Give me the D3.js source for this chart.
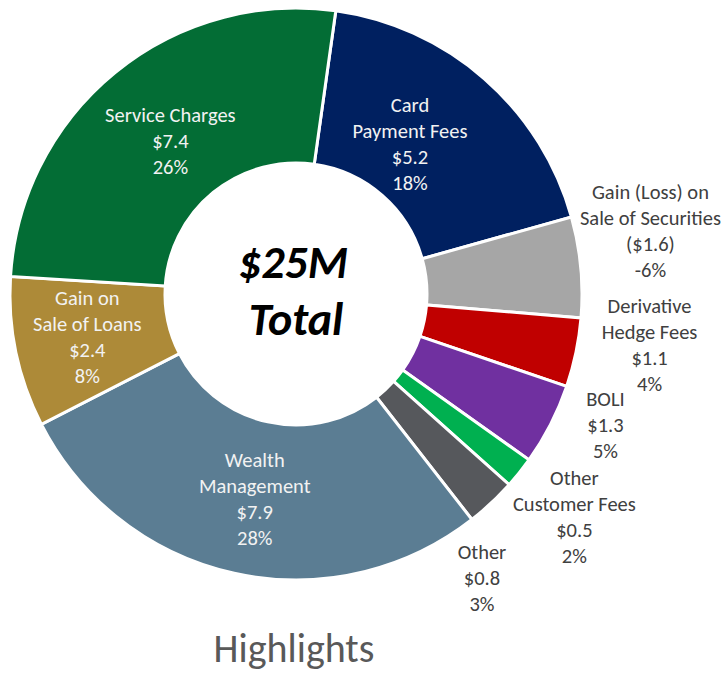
<!DOCTYPE html>
<html>
<head>
<meta charset="utf-8">
<script src="https://cdn.jsdelivr.net/npm/d3@7"></script>
<style>
  html, body { margin: 0; padding: 0; background: #ffffff; }
  svg { display: block; }
</style>
</head>
<body>
<svg id="chart" width="725" height="673"></svg>
<script>
// ---------------- data ----------------
const categories = [
  "Card Payment Fees",
  "Gain (Loss) on Sale of Securities",
  "Derivative Hedge Fees",
  "BOLI",
  "Other Customer Fees",
  "Other",
  "Wealth Management",
  "Gain on Sale of Loans",
  "Service Charges"
];
const values = [5.2, -1.6, 1.1, 1.3, 0.5, 0.8, 7.9, 2.4, 7.4];          // $M
const percents = [18, -6, 4, 5, 2, 3, 28, 8, 26];                       // % of total
const labelLines = [
  ["Card", "Payment Fees"],
  ["Gain (Loss) on", "Sale of Securities"],
  ["Derivative", "Hedge Fees"],
  ["BOLI"],
  ["Other", "Customer Fees"],
  ["Other"],
  ["Wealth", "Management"],
  ["Gain on", "Sale of Loans"],
  ["Service Charges"]
];
const centerLines = ["$25M", "Total"];
const titleText = "Highlights";

// ---------------- styling / layout ----------------
const colors = ["#002060", "#A6A6A6", "#C00000", "#7030A0", "#00B050",
                "#56585C", "#5B7D93", "#AD8A38", "#036D35"];
const insideLabel = [true, false, false, false, false, false, true, true, true];
const labelNudge = {
  "Card Payment Fees": [-21, 4],
  "Service Charges": [4, 6],
  "Gain on Sale of Loans": [-8, 1],
  "Wealth Management": [3, 5],
  "Gain (Loss) on Sale of Securities": [6, -30],
  "Derivative Hedge Fees": [11, -21],
  "BOLI": [-2, -29],
  "Other Customer Fees": [5, 4],
  "Other": [-53, 28]
};

const W = 725, H = 673;
const cx = 296, cy = 294;
const outerR = 286, innerR = 131;
const startDeg = 8;
const FONT = "Calibri, Carlito, Lato, 'Noto Sans', sans-serif";

const svg = d3.select("#chart");
const g = svg.append("g").attr("transform", `translate(${cx},${cy})`);

const data = categories.map((c, i) => ({
  name: c, value: values[i], pct: percents[i], lines: labelLines[i],
  color: colors[i], inside: insideLabel[i]
}));

const pie = d3.pie()
  .sort(null)
  .value(d => Math.abs(d.value))
  .startAngle(startDeg * Math.PI / 180)
  .endAngle((startDeg + 360) * Math.PI / 180);

const arc = d3.arc().innerRadius(innerR).outerRadius(outerR);
const arcs = pie(data);

g.selectAll("path.slice")
  .data(arcs)
  .join("path")
  .attr("class", "slice")
  .attr("d", arc)
  .attr("fill", d => d.data.color)
  .attr("stroke", "#ffffff")
  .attr("stroke-width", 3)
  .attr("stroke-linejoin", "miter");

const fmtVal = v => v < 0 ? `($${Math.abs(v).toFixed(1)})` : `$${v.toFixed(1)}`;
const lineH = 26;

arcs.forEach(a => {
  const d = a.data;
  const mid = (a.startAngle + a.endAngle) / 2;
  const r = d.inside ? 205 : 350;
  const nudge = labelNudge[d.name] || [0, 0];
  const x = r * Math.sin(mid) + nudge[0];
  const y = -r * Math.cos(mid) + nudge[1];
  const lines = d.lines.concat([fmtVal(d.value), `${d.pct}%`]);
  const t = g.append("text")
    .attr("text-anchor", "middle")
    .attr("font-family", FONT)
    .attr("font-size", 20.5)
    .attr("font-weight", 300)
    .attr("fill", d.inside ? "#F2F2F2" : "#404040");
  const n = lines.length;
  lines.forEach((ln, i) => {
    t.append("tspan")
      .attr("x", x)
      .attr("y", y + (i - (n - 1) / 2) * lineH)
      .attr("dy", "0.35em")
      .text(ln);
  });
});

// center text
const ct = g.append("text")
  .attr("text-anchor", "middle")
  .attr("font-family", FONT)
  .attr("font-size", 46)
  .attr("font-weight", "bold")
  .attr("font-style", "italic")
  .attr("fill", "#000000");
ct.append("tspan").attr("x", -3).attr("y", -16).text(centerLines[0]);
ct.append("tspan").attr("x", 0).attr("y", 41).text(centerLines[1]);

// title
svg.append("text")
  .attr("x", 294)
  .attr("y", 662)
  .attr("text-anchor", "middle")
  .attr("font-family", FONT)
  .attr("font-size", 40)
  .attr("font-weight", 300)
  .attr("fill", "#595959")
  .text(titleText);
</script>
</body>
</html>
